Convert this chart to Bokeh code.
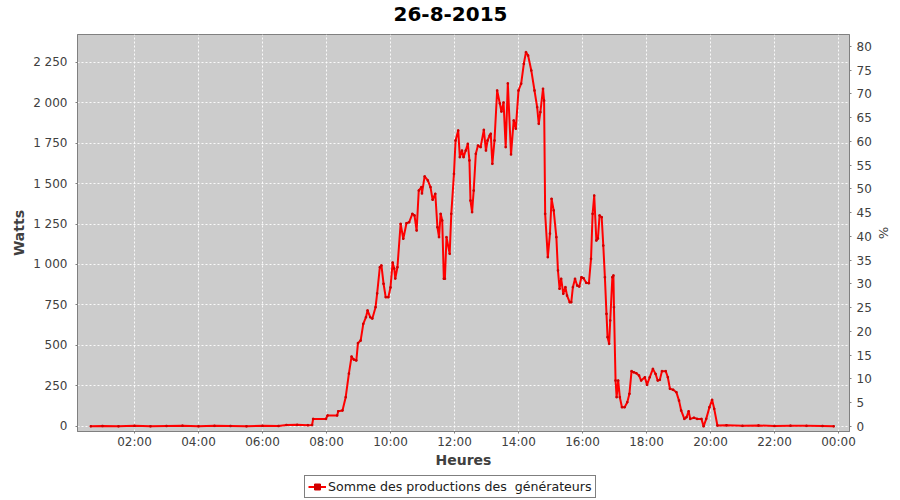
from bokeh.plotting import figure
from bokeh.layouts import column
from bokeh.models import (Range1d, LinearAxis, FixedTicker, Legend, LegendItem,
                          SingleIntervalTicker, Label)
from bokeh.embed import file_html
from bokeh.resources import INLINE

TITLE = "26-8-2015"
X_LABEL = "Heures"
Y_LABEL = "Watts"
Y2_LABEL = "%"
SERIES_NAME = "Somme des productions des  générateurs"

times = [
    "00:38", "01:00", "01:30", "02:00", "02:30", "03:00", "03:30", "04:00", "04:30",
    "05:00", "05:30", "06:00", "06:30", "06:45", "07:05", "07:25", "07:33",
    "07:35", "07:59", "08:02", "08:20", "08:22", "08:30", "08:36", "08:42", "08:47",
    "08:51", "08:56", "08:59", "09:04", "09:09", "09:14", "09:17", "09:22", "09:26",
    "09:32", "09:35", "09:40", "09:43", "09:47", "09:51", "09:56", "10:00", "10:04",
    "10:07", "10:09", "10:13", "10:19", "10:24", "10:30", "10:35", "10:41", "10:45",
    "10:49", "10:53", "10:58", "10:59", "11:04", "11:10", "11:15", "11:19", "11:24",
    "11:28", "11:31", "11:34", "11:37", "11:40", "11:42", "11:45", "11:51", "11:54",
    "11:59", "12:02", "12:07", "12:10", "12:14", "12:17", "12:21", "12:25", "12:28",
    "12:30", "12:33", "12:36", "12:40", "12:44", "12:49", "12:55", "12:59", "13:02",
    "13:06", "13:08", "13:11", "13:15", "13:20", "13:25", "13:28", "13:32", "13:36",
    "13:40", "13:46", "13:51", "13:55", "14:00", "14:05", "14:10", "14:14", "14:18",
    "14:24", "14:30", "14:35", "14:38", "14:41", "14:46", "14:48", "14:50", "14:55",
    "14:59", "15:02", "15:06", "15:11", "15:14", "15:17", "15:20", "15:24", "15:28",
    "15:31", "15:36", "15:39", "15:42", "15:46", "15:50", "15:54", "15:58", "16:02",
    "16:07", "16:12", "16:16", "16:19", "16:22", "16:26", "16:29", "16:32", "16:36",
    "16:39", "16:42", "16:45", "16:47", "16:50", "16:52", "16:56", "16:58", "16:59",
    "17:02", "17:04", "17:07", "17:10", "17:14", "17:19", "17:24", "17:28", "17:32",
    "17:36", "17:41", "17:46", "17:50", "17:57", "18:01", "18:06", "18:12", "18:17",
    "18:21", "18:25", "18:29", "18:36", "18:40", "18:44", "18:50", "18:56", "19:01",
    "19:05", "19:11", "19:15", "19:19", "19:22", "19:29", "19:35", "19:43", "19:47",
    "19:52", "19:58", "20:03", "20:07", "20:13", "20:30", "21:00", "21:30", "22:00",
    "22:30", "23:00", "23:30", "23:51",
]
watts = [
    0, 2, 0, 3, 0, 2, 4, 0, 3,
    2, 0, 3, 2, 8, 9, 7, 8,
    46, 46, 67, 67, 93, 98, 180, 326, 431,
    413, 407, 514, 530, 633, 674, 716, 674, 666,
    736, 821, 983, 994, 881, 798, 798, 858, 1012,
    975, 913, 983, 1251, 1159, 1255, 1261, 1313, 1303,
    1210, 1457, 1478, 1439, 1544, 1519, 1478, 1400, 1437,
    1230, 1169, 1313, 1272, 912, 912, 1169, 1066, 1313,
    1560, 1766, 1828, 1663, 1704, 1663, 1704, 1746, 1643,
    1395, 1323, 1457, 1684, 1735, 1725, 1832, 1704, 1766,
    1797, 1808, 1622, 1766, 2075, 1995, 1945, 2001, 1725,
    2119, 1680, 1890, 1839, 2075, 2117, 2240, 2312, 2291,
    2199, 2075, 1972, 1869, 1941, 2086, 2013, 1313, 1045,
    1191, 1406, 1334, 1169, 963, 850, 912, 819, 860,
    808, 767, 767, 860, 912, 870, 864, 921, 915,
    887, 884, 1035, 1313, 1426, 1148, 1161, 1303, 1292,
    1117, 921, 695, 551, 510, 654, 921, 932, 736,
    283, 180, 283, 180, 118, 118, 149, 201, 341,
    334, 328, 314, 283, 303, 256, 303, 355, 324,
    283, 287, 341, 341, 303, 232, 226, 211, 159,
    98, 46, 56, 93, 46, 53, 46, 46, 0,
    46, 118, 164, 108, 5, 6, 3, 5, 2,
    4, 3, 2, 0,
]

x_tick_hours = [2, 4, 6, 8, 10, 12, 14, 16, 18, 20, 22, 24]
x_tick_labels = ["02:00", "04:00", "06:00", "08:00", "10:00", "12:00",
                 "14:00", "16:00", "18:00", "20:00", "22:00", "00:00"]
y_ticks = [0, 250, 500, 750, 1000, 1250, 1500, 1750, 2000, 2250]
y_tick_labels = ["0", "250", "500", "750", "1 000", "1 250", "1 500",
                 "1 750", "2 000", "2 250"]


def to_hours(t):
    hh, mm = t.split(":")
    return int(hh) + int(mm) / 60.0


hours = [to_hours(t) for t in times]

FONT = "DejaVu Sans"
AXIS_GRAY = "#808080"
TEXT_GRAY = "#404040"
LINE_RED = "#ff0000"
DOT_RED = "#d00000"

# ---------------- title strip ----------------
p0 = figure(width=900, height=24, output_backend="svg", toolbar_location=None,
            title=None, x_axis_type=None, y_axis_type=None, min_border=0,
            outline_line_color=None, background_fill_color="white",
            border_fill_color="white")
p0.add_layout(Label(x=373, y=11, x_units="screen", y_units="screen", text=TITLE,
                    text_font=FONT, text_font_size="20px", text_font_style="bold",
                    text_align="center", text_baseline="middle", text_color="black"))

# ---------------- main chart ----------------
p = figure(width=900, height=448, output_backend="svg", toolbar_location=None,
           title=None,
           x_range=Range1d(0.219, 24.344), y_range=Range1d(-32, 2421),
           min_border_left=77, min_border_right=51, min_border_top=10,
           min_border_bottom=41,
           background_fill_color="#cccccc", border_fill_color="white",
           outline_line_color=AXIS_GRAY, outline_line_width=1)

p.extra_y_ranges = {"pct": Range1d(-1.10, 82.53)}

xa = p.xaxis[0]
xa.ticker = FixedTicker(ticks=x_tick_hours)
xa.major_label_overrides = {h: lab for h, lab in zip(x_tick_hours, x_tick_labels)}
xa.axis_label = X_LABEL
ya = p.yaxis[0]
ya.ticker = FixedTicker(ticks=y_ticks)
ya.major_label_overrides = {v: lab for v, lab in zip(y_ticks, y_tick_labels)}
ya.axis_label = Y_LABEL

ra = LinearAxis(y_range_name="pct",
                ticker=SingleIntervalTicker(interval=5, num_minor_ticks=0),
                axis_label=Y2_LABEL)
p.add_layout(ra, "right")

for ax in (xa, ya, ra):
    ax.axis_line_color = AXIS_GRAY
    ax.major_tick_line_color = AXIS_GRAY
    ax.minor_tick_line_color = None
    ax.major_tick_in = 0
    ax.major_tick_out = 2
    ax.major_label_text_font = FONT
    ax.major_label_text_font_size = "12px"
    ax.major_label_text_color = TEXT_GRAY
    ax.axis_label_text_font = FONT
    ax.axis_label_text_color = TEXT_GRAY

xa.major_label_standoff = 1
xa.axis_label_standoff = 0
xa.axis_label_text_font_size = "14px"
xa.axis_label_text_font_style = "bold"
ya.major_label_standoff = 8
ya.axis_label_standoff = 3
ya.axis_label_text_font_size = "14px"
ya.axis_label_text_font_style = "bold"
ra.major_label_standoff = 5
ra.axis_label_standoff = 1
ra.axis_label_text_font_size = "13px"
ra.axis_label_text_font_style = "normal"

p.xgrid.ticker = FixedTicker(ticks=x_tick_hours)
p.ygrid.ticker = FixedTicker(ticks=y_ticks)
for g in (p.xgrid[0], p.ygrid[0]):
    g.grid_line_color = "white"
    g.grid_line_dash = "2 2"
    g.grid_line_width = 1
    g.grid_line_alpha = 0.9

p.line(hours, watts, line_color=LINE_RED, line_width=2)
p.scatter(hours, watts, marker="square", size=1.5, fill_color=DOT_RED, line_color=DOT_RED)

# ---------------- legend strip ----------------
p2 = figure(width=900, height=28, output_backend="svg", toolbar_location=None,
            title=None, x_axis_type=None, y_axis_type=None, min_border=0,
            outline_line_color=None, background_fill_color="white",
            border_fill_color="white")
l2 = p2.line(hours, watts, line_color=LINE_RED, line_width=2, visible=False)
s2 = p2.scatter(hours, watts, marker="square", size=3, fill_color=DOT_RED,
                line_color=DOT_RED, visible=False)

legend = Legend(items=[LegendItem(label=SERIES_NAME, renderers=[l2, s2])],
                location=(227, 2), orientation="horizontal",
                border_line_color="black", border_line_width=1,
                background_fill_color="white", background_fill_alpha=1.0,
                padding=3, margin=0, spacing=0,
                label_text_font=FONT, label_text_font_size="12.6px",
                label_text_color="#202020", label_standoff=2,
                glyph_width=18, glyph_height=15, label_height=15)
p2.add_layout(legend)

layout = column(p0, p, p2, spacing=0)
open("out.html", "w").write(file_html(layout, INLINE))
